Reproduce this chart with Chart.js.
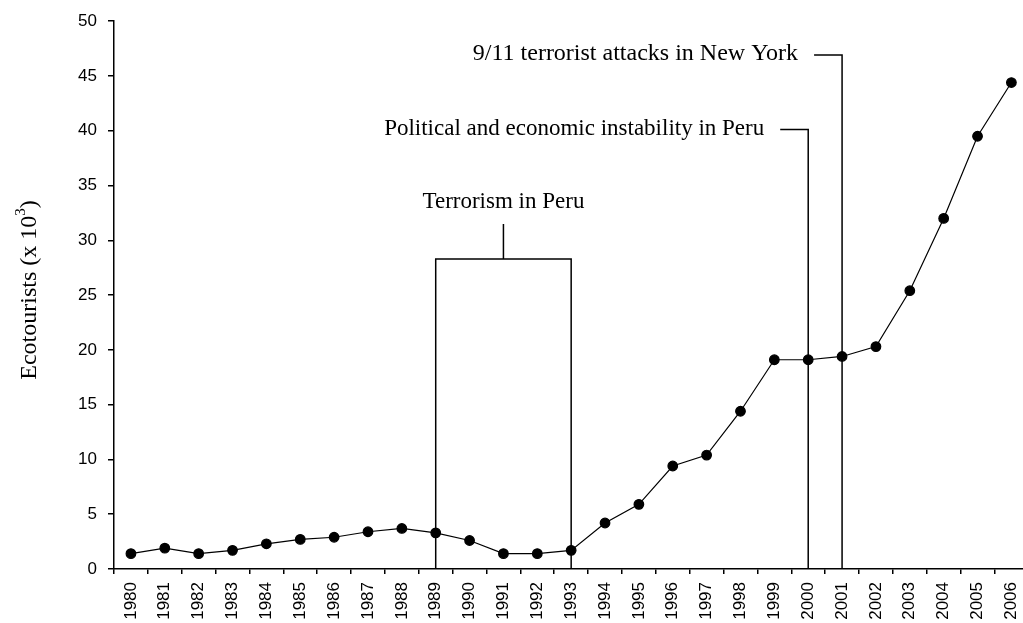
<!DOCTYPE html>
<html>
<head>
<meta charset="utf-8">
<script src="https://cdn.jsdelivr.net/npm/chart.js@4/dist/chart.umd.min.js"></script>
<style>
  html, body { margin: 0; padding: 0; background: #fff; overflow: hidden; width: 1023px; height: 623px; }
  canvas { display: block; }
</style>
</head>
<body>
<canvas id="c" width="1040" height="623"></canvas>
<script>
const years = ['1980','1981','1982','1983','1984','1985','1986','1987','1988','1989','1990','1991','1992','1993','1994','1995','1996','1997','1998','1999','2000','2001','2002','2003','2004','2005','2006'];
const ecotourists = [1.4,1.9,1.4,1.7,2.3,2.7,2.9,3.4,3.7,3.3,2.6,1.4,1.4,1.7,4.2,5.9,9.4,10.4,14.4,19.1,19.1,19.4,20.3,25.4,32.0,39.5,44.4];
const yTicks = [0,5,10,15,20,25,30,35,40,45,50];
const yTitle = 'Ecotourists (x 10';
const yTitleSup = '3';

// Annotations (category indices and data values)
const terrorism = { label: 'Terrorism in Peru', from: '1989', to: '1993', boxTop: 28.3, stemTop: 31.5, labelAt: 33.5 };
const bracketNotes = [
  { label: 'Political and economic instability in Peru', year: '2000', at: 40.2 },
  { label: '9/11 terrorist attacks in New York', year: '2001', at: 47.0 }
];

const SERIF = '"Liberation Serif", "Times New Roman", serif';
const SANS = '"Liberation Sans", Arial, sans-serif';

const annotations = {
  id: 'annotations',
  beforeDatasetsDraw(chart) {
    const ctx = chart.ctx, x = chart.scales.x, y = chart.scales.y;
    const base = y.getPixelForValue(0);
    ctx.save();
    ctx.strokeStyle = '#000';
    ctx.lineWidth = 1.5;
    ctx.fillStyle = '#000';
    ctx.font = '23px ' + SERIF;
    // Terrorism box
    const x1 = x.getPixelForValue(years.indexOf(terrorism.from));
    const x2 = x.getPixelForValue(years.indexOf(terrorism.to));
    const yt = y.getPixelForValue(terrorism.boxTop);
    const xm = (x1 + x2) / 2;
    ctx.beginPath();
    ctx.moveTo(x1, base); ctx.lineTo(x1, yt); ctx.lineTo(x2, yt); ctx.lineTo(x2, base);
    ctx.moveTo(xm, yt); ctx.lineTo(xm, y.getPixelForValue(terrorism.stemTop));
    ctx.stroke();
    ctx.textAlign = 'center'; ctx.textBaseline = 'middle';
    ctx.fillText(terrorism.label, xm, y.getPixelForValue(terrorism.labelAt));
    // Bracket notes
    bracketNotes.forEach(n => {
      const px = x.getPixelForValue(years.indexOf(n.year));
      const py = y.getPixelForValue(n.at);
      ctx.beginPath();
      ctx.moveTo(px - 28, py + 1); ctx.lineTo(px, py + 1); ctx.lineTo(px, base);
      ctx.stroke();
      ctx.textAlign = 'right';
      ctx.font = (n.year === '2001' ? '24px ' : '23px ') + SERIF;
      ctx.fillText(n.label, px - 44, py);
    });
    // Y axis title with superscript
    ctx.save();
    ctx.translate(30, 290);
    ctx.rotate(-Math.PI / 2);
    ctx.font = '24px ' + SERIF;
    const w1 = ctx.measureText(yTitle).width;
    ctx.font = '15px ' + SERIF;
    const w2 = ctx.measureText(yTitleSup).width;
    ctx.font = '24px ' + SERIF;
    const w3 = ctx.measureText(')').width;
    const total = w1 + w2 + w3;
    let cx = -total / 2;
    ctx.textAlign = 'left'; ctx.textBaseline = 'middle';
    ctx.fillText(yTitle, cx, 0); cx += w1;
    ctx.font = '15px ' + SERIF;
    ctx.fillText(yTitleSup, cx, -9); cx += w2;
    ctx.font = '24px ' + SERIF;
    ctx.fillText(')', cx, 0);
    ctx.restore();
    ctx.restore();
  }
};

new Chart(document.getElementById('c'), {
  type: 'line',
  data: {
    labels: years,
    datasets: [{
      data: ecotourists,
      borderColor: '#000',
      backgroundColor: '#000',
      borderWidth: 1.2,
      pointRadius: 4.8,
      pointBackgroundColor: '#000',
      pointBorderColor: '#000',
      tension: 0
    }]
  },
  options: {
    responsive: false,
    animation: false,
    devicePixelRatio: 1,
    layout: { padding: { top: 19, right: 11, bottom: 0, left: 0 } },
    plugins: { legend: { display: false }, tooltip: { enabled: false } },
    scales: {
      x: {
        type: 'category',
        offset: true,
        grid: { offset: true, drawOnChartArea: false, color: '#000', tickLength: 5, lineWidth: 1.5 },
        border: { color: '#000', width: 1.5 },
        ticks: { color: '#000', font: { family: SANS, size: 17 }, minRotation: 90, maxRotation: 90, autoSkip: false, padding: 8 },
        afterFit(s) { s.height = 623 - 569; }
      },
      y: {
        min: 0, max: 50,
        afterBuildTicks(s) { s.ticks = yTicks.map(v => ({ value: v })); },
        grid: { drawOnChartArea: false, color: '#000', tickLength: 6, lineWidth: 1.5 },
        border: { color: '#000', width: 1.5 },
        ticks: { color: '#000', font: { family: SANS, size: 17 }, padding: 11 },
        afterFit(s) { s.width = 114; }
      }
    }
  },
  plugins: [annotations]
});
</script>
</body>
</html>
